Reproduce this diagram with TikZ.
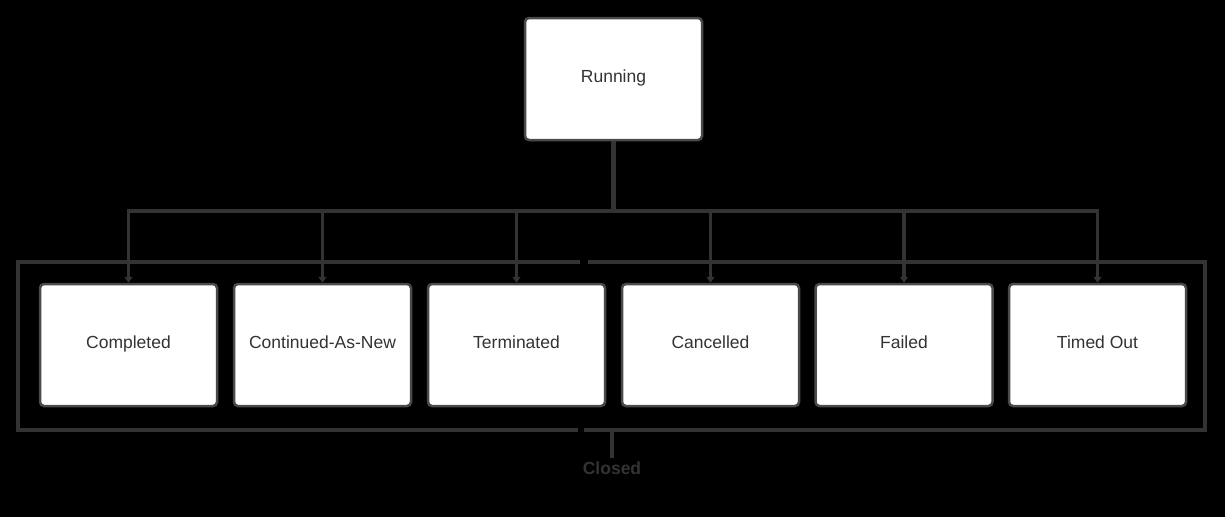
\documentclass[tikz,border=0pt]{standalone}
\usepackage{fontspec}
\setmainfont{Liberation Sans}
\usetikzlibrary{arrows.meta}
\definecolor{wire}{HTML}{333333}
\definecolor{frame}{HTML}{4A4A4A}
\definecolor{txt}{HTML}{333333}
\begin{document}
\begin{tikzpicture}[x=1pt,y=-1pt,
  statebox/.style={draw=frame,line width=2.5pt,fill=white,rounded corners=4pt,
    minimum width=177pt,minimum height=122pt,inner sep=0pt,
    text height=12pt,text depth=6pt,
    font=\fontsize{17.5}{20}\selectfont,text=txt},
  wireline/.style={draw=wire,line width=3.5pt},
  arrowline/.style={wireline,-{Triangle[width=8pt,length=6pt]}}]
\fill[black] (0,0) rectangle (1225,517);
\useasboundingbox (0,0) rectangle (1225,517);
% group frame
\draw[wireline] (580,262) -- (18,262) -- (18,430) -- (578,430);
\draw[wireline] (588,262) -- (1205,262) -- (1205,430) -- (584,430);
\node (run) [statebox] at (613.5,79) {Running};
\node (c1) [statebox] at (128.5,345) {Completed};
\node (c2) [statebox] at (322.5,345) {Continued-As-New};
\node (c3) [statebox] at (516.5,345) {Terminated};
\node (c4) [statebox] at (710.5,345) {Cancelled};
\node (c5) [statebox] at (904,345) {Failed};
\node (c6) [statebox] at (1097.5,345) {Timed Out};
\coordinate (split) at (613.5,211);
\draw[wireline,line width=4.5pt] (run.south) -- (split);
\foreach \n in {c1,c2,c3,c4,c5,c6}{
  \draw[arrowline] (split) -| (\n.north);
}
\node (closed) [text=wire,font=\bfseries\fontsize{17.5}{20}\selectfont] at (612,468) {Closed};
\coordinate (gb) at (612,430);
\draw[wireline] (gb) -- (closed.north);
\end{tikzpicture}
\end{document}
